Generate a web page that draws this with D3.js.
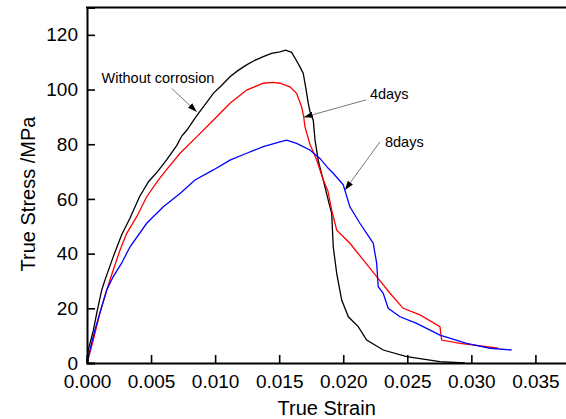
<!DOCTYPE html>
<html>
<head>
	<title>True stress - true strain</title>
	<script src="https://cdn.jsdelivr.net/npm/d3@7/dist/d3.min.js"></script>
	<style>
		body { margin: 0; background: #fff; }
		svg { display: block; font-family: Arial, "Liberation Sans", sans-serif; }
	</style>
</head>
<body>
	<svg id="chart" width="566" height="419"></svg>

	<script>
		// strain / stress pairs
		var strainBlack = [0, 0.0001, 0.00037, 0.0005, 0.00076, 0.00115, 0.0014, 0.00205, 0.0027, 0.00336, 0.0041, 0.0048, 0.0055, 0.0062, 0.007, 0.0074, 0.0078, 0.0083, 0.0087, 0.0093, 0.00986, 0.0105, 0.01116, 0.0118, 0.01246, 0.0131, 0.01376, 0.0144, 0.01506, 0.0155, 0.01597, 0.0163, 0.01662, 0.01688, 0.0171, 0.01727, 0.0174, 0.01766, 0.0178, 0.01805, 0.01844, 0.01896, 0.0191, 0.01922, 0.01949, 0.01988, 0.0204, 0.02117, 0.02183, 0.02312, 0.02495, 0.02755, 0.0295];
		var stressBlack = [0, 4.8, 9.6, 12, 18.2, 26.7, 30.3, 38.9, 46.8, 53.0, 60.8, 66.3, 70, 74.2, 79.5, 83, 85.2, 88.6, 91.3, 95, 98.6, 101.5, 104.7, 107, 109.0, 110.7, 112.0, 113.2, 113.8, 114.4, 113.6, 111, 108.3, 105.9, 100, 95.0, 92, 88.8, 81.5, 74, 66.9, 57.1, 54.7, 42.5, 32.8, 23.0, 16.9, 13.3, 8.4, 4.75, 2.3, 0.5, 0];

		var strainRed = [0, 0.0001, 0.00049, 0.001, 0.00154, 0.00205, 0.00258, 0.0031, 0.00388, 0.00466, 0.00556, 0.0062, 0.00726, 0.00856, 0.00986, 0.01116, 0.01246, 0.01376, 0.0145, 0.01506, 0.01584, 0.01636, 0.01675, 0.0169, 0.01701, 0.0174, 0.01793, 0.01844, 0.0188, 0.0191, 0.01949, 0.02052, 0.02156, 0.02261, 0.02365, 0.02468, 0.02599, 0.02755, 0.02768, 0.02911, 0.03119, 0.0321];
		var stressRed = [0, 1.5, 8.4, 18.2, 26.7, 34.0, 41.3, 47.4, 53.5, 60.8, 66.9, 70.6, 76.7, 82.7, 88.8, 95.0, 99.8, 102.3, 102.6, 102.3, 101, 98.6, 93.7, 90.5, 86.4, 80, 74.2, 66.9, 63, 55.9, 48.6, 43.8, 37.7, 31.6, 25.5, 20.0, 17.6, 13.3, 8.4, 7.2, 6.0, 5.4];

		var strainBlue = [0, 0.0001, 0.00062, 0.00115, 0.00154, 0.00205, 0.0027, 0.00336, 0.00466, 0.00596, 0.00726, 0.00843, 0.00986, 0.01116, 0.01246, 0.01376, 0.01506, 0.01558, 0.01636, 0.0174, 0.01818, 0.01883, 0.01922, 0.02, 0.02052, 0.0213, 0.02209, 0.02234, 0.02261, 0.02273, 0.02312, 0.02351, 0.02443, 0.02573, 0.02755, 0.02963, 0.03145, 0.03314];
		var stressBlue = [0, 2.3, 12.1, 20.6, 26.7, 31.6, 36.5, 42.5, 51.1, 57.1, 62.0, 66.9, 70.6, 74.2, 76.7, 79.1, 80.9, 81.5, 80.3, 77.9, 74.8, 71.2, 69.4, 65.2, 57.1, 51.1, 45.6, 43.8, 36.5, 27.9, 25.5, 20.0, 16.9, 14.5, 10.2, 7.2, 5.4, 4.75];

		var xTicks = [0, 0.005, 0.01, 0.015, 0.02, 0.025, 0.03, 0.035];
		var yTicks = [0, 20, 40, 60, 80, 100, 120];

		// label text, label anchor, arrow start, arrow tip (data units)
		var noteText = ['Without corrosion', '4days', '8days'];
		var noteAt = [[0.00114, 102.3], [0.02208, 96.5], [0.02326, 79.1]];
		var noteFrom = [[0.00661, 100.4], [0.02177, 96.2], [0.02287, 80.9]];
		var noteTip = [[0.00856, 91.9], [0.01693, 89.9], [0.02014, 63.3]];

		var svg = d3.select('#chart');

		var x = d3.scaleLinear().domain([0, 0.0377]).range([87, 570]);
		var y = d3.scaleLinear().domain([0, 130]).range([363, 7.5]);

		svg.append('defs').append('marker')
			.attr('id', 'head')
			.attr('viewBox', '0 0 10 10')
			.attr('refX', 10)
			.attr('refY', 5)
			.attr('markerWidth', 9)
			.attr('markerHeight', 9)
			.attr('markerUnits', 'userSpaceOnUse')
			.attr('orient', 'auto')
			.append('path')
			.attr('d', 'M0,1.5 L10,5 L0,8.5 Z')
			.attr('fill', '#000');

		var line = d3.line()
			.x(d => x(d[0]))
			.y(d => y(d[1]));

		var series = [
			{ xs: strainBlack, ys: stressBlack, color: '#000000' },
			{ xs: strainRed, ys: stressRed, color: '#ff0000' },
			{ xs: strainBlue, ys: stressBlue, color: '#0000ff' }
		];

		series.forEach(s => {
			svg.append('path')
				.datum(s.xs.map((v, i) => [v, s.ys[i]]))
				.attr('d', line)
				.attr('fill', 'none')
				.attr('stroke', s.color)
				.attr('stroke-width', 1.3);
		});

		// axes, ticks pointing inward
		var xAxis = svg.append('g')
			.attr('transform', 'translate(0,363)')
			.call(d3.axisBottom(x).tickValues(xTicks).tickFormat(d3.format('.3f')).tickSize(-8).tickPadding(12));

		var yAxis = svg.append('g')
			.attr('transform', 'translate(87,0)')
			.call(d3.axisLeft(y).tickValues(yTicks).tickSize(-8).tickPadding(9));

		[xAxis, yAxis].forEach(g => {
			g.select('.domain').attr('stroke-width', 2);
			g.selectAll('.tick line').attr('stroke-width', 1.6);
			g.selectAll('.tick text')
				.attr('font-size', 19)
				.attr('font-family', 'Arial, "Liberation Sans", sans-serif')
				.attr('fill', '#000');
		});

		// top frame line
		svg.append('line')
			.attr('x1', 86).attr('x2', 566)
			.attr('y1', 7.5).attr('y2', 7.5)
			.attr('stroke', '#000')
			.attr('stroke-width', 2);

		svg.append('text')
			.attr('x', 326.7)
			.attr('y', 415)
			.attr('text-anchor', 'middle')
			.attr('font-size', 20)
			.text('True Strain');

		svg.append('text')
			.attr('transform', 'translate(35,194) rotate(-90)')
			.attr('text-anchor', 'middle')
			.attr('font-size', 20)
			.text('True Stress /MPa');

		noteText.forEach((t, i) => {
			svg.append('line')
				.attr('x1', x(noteFrom[i][0])).attr('y1', y(noteFrom[i][1]))
				.attr('x2', x(noteTip[i][0])).attr('y2', y(noteTip[i][1]))
				.attr('stroke', '#555')
				.attr('stroke-width', 0.8)
				.attr('marker-end', 'url(#head)');

			svg.append('text')
				.attr('x', x(noteAt[i][0]))
				.attr('y', y(noteAt[i][1]))
				.attr('font-size', 14.5)
				.text(t);
		});
	</script>
</body>
</html>
